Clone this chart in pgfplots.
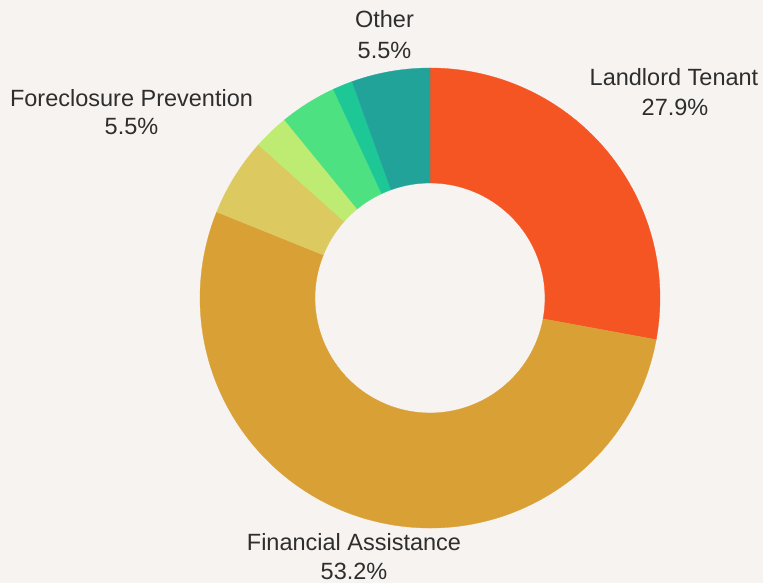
\documentclass[border=0pt]{standalone}
\usepackage{pgfplots}
\pgfplotsset{compat=1.18}
\usepackage{pgfplotstable}
\usepackage{fontspec}
\setmainfont{Liberation Sans}
\definecolor{bg}{HTML}{F7F3F0}
\definecolor{txt}{HTML}{2E2E2E}
\definecolor{cLT}{HTML}{F55423}
\definecolor{cFA}{HTML}{D9A036}
\definecolor{cFP}{HTML}{DCCA60}
\definecolor{cLG}{HTML}{BEEC72}
\definecolor{cGR}{HTML}{4EE182}
\definecolor{cTG}{HTML}{1EC896}
\definecolor{cOT}{HTML}{22A39A}
\pgfplotstableread{
value col
27.9 cLT
53.2 cFA
5.5 cFP
2.5 cLG
4.0 cGR
1.4 cTG
5.5 cOT
}\piedata
\begin{document}
\begin{tikzpicture}
\begin{axis}[hide axis, x=1pt, y=1pt, xmin=-430, xmax=333, ymin=-285, ymax=298,
  enlargelimits=false, clip=false]
\fill[bg] (axis cs:-430,-285) rectangle (axis cs:333,298);
\gdef\cur{90}
\foreach \i in {0,...,6}{
  \pgfplotstablegetelem{\i}{value}\of\piedata
  \pgfmathsetmacro\b{\cur-3.6*\pgfplotsretval}
  \pgfplotstablegetelem{\i}{col}\of\piedata
  \edef\temp{\noexpand\fill[\pgfplotsretval, draw=\pgfplotsretval, line width=0.3pt] (axis cs:{230*cos(\cur)},{230*sin(\cur)}) arc[start angle=\cur, end angle=\b, radius=230pt] -- (axis cs:{115*cos(\b)},{115*sin(\b)}) arc[start angle=\b, end angle=\cur, radius=115pt] -- cycle;}
  \temp
  \xdef\cur{\b}
}
\begin{scope}[every node/.style={font=\fontsize{23.5}{28}\selectfont, text=txt, inner sep=0pt, anchor=base}]
\node at (axis cs:244,212) {Landlord Tenant};
\node at (axis cs:245,182) {27.9\%};
\node at (axis cs:-298.5,191.3) {Foreclosure Prevention};
\node at (axis cs:-298.5,163) {5.5\%};
\node at (axis cs:-45.5,270) {Other};
\node at (axis cs:-45.5,239) {5.5\%};
\node at (axis cs:-76,-252.5) {Financial Assistance};
\node at (axis cs:-76,-281.5) {53.2\%};
\end{scope}
\end{axis}
\end{tikzpicture}
\end{document}
